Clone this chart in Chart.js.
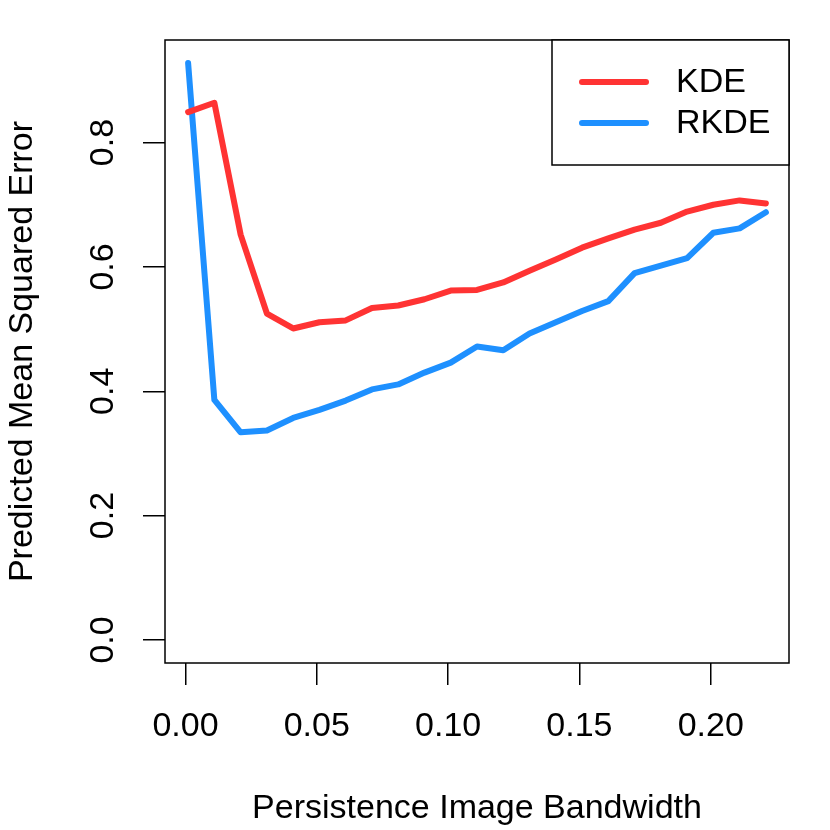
<!DOCTYPE html>
<html>
<head>
<meta charset="utf-8">
<style>
  html, body { margin: 0; padding: 0; background: #fff; }
  canvas { display: block; }
</style>
<script src="https://cdn.jsdelivr.net/npm/chart.js@4.4.1/dist/chart.umd.min.js"></script>
</head>
<body>
<canvas id="pmse_chart" width="830" height="830"></canvas>
<script>
var bandwidth = [0.001, 0.011, 0.021, 0.031, 0.041, 0.051, 0.061, 0.071, 0.081, 0.091, 0.101, 0.111,
                 0.121, 0.131, 0.141, 0.151, 0.161, 0.171, 0.181, 0.191, 0.201, 0.211, 0.221];
var kde = [0.849, 0.864, 0.652, 0.525, 0.501, 0.511, 0.514, 0.534, 0.538, 0.548, 0.562, 0.563,
           0.575, 0.594, 0.612, 0.631, 0.646, 0.660, 0.671, 0.689, 0.700, 0.707, 0.702];
var rkde = [0.928, 0.386, 0.334, 0.337, 0.357, 0.370, 0.385, 0.403, 0.411, 0.430, 0.446, 0.472,
            0.466, 0.493, 0.511, 0.529, 0.545, 0.590, 0.602, 0.614, 0.655, 0.662, 0.688];
var xTicks = [0, 0.05, 0.10, 0.15, 0.20];
var yTicks = [0, 0.2, 0.4, 0.6, 0.8];

var FONT = 'Liberation Sans, Arial, Helvetica, sans-serif';

function pairs(ys) {
  return ys.map(function (y, i) { return { x: bandwidth[i], y: y }; });
}

// box, rotated y labels and legend, the way R base graphics draws them
var rStyle = {
  id: 'rStyle',
  afterDraw: function (chart) {
    var ctx = chart.ctx;
    var a = chart.chartArea;
    var ys = chart.scales.y;
    ctx.save();
    ctx.strokeStyle = '#000';
    ctx.lineWidth = 1.5;
    ctx.strokeRect(a.left, a.top, a.right - a.left, a.bottom - a.top);

    ctx.fillStyle = '#000';
    ctx.font = '34px ' + FONT;
    ctx.textAlign = 'center';
    ctx.textBaseline = 'middle';
    ys.ticks.forEach(function (t) {
      var py = ys.getPixelForValue(t.value);
      ctx.save();
      ctx.translate(104, py);
      ctx.rotate(-Math.PI / 2);
      ctx.fillText(t.value.toFixed(1), 0, 0);
      ctx.restore();
    });

    // legend
    var lx = 552, ly = a.top, lw = a.right - 552, lh = 125;
    ctx.fillStyle = '#fff';
    ctx.fillRect(lx, ly, lw, lh);
    ctx.strokeRect(lx, ly, lw, lh);
    ctx.textAlign = 'left';
    chart.data.datasets.forEach(function (ds, i) {
      var yy = ly + 42 + i * 41;
      ctx.strokeStyle = ds.borderColor;
      ctx.lineWidth = 6;
      ctx.lineCap = 'round';
      ctx.beginPath();
      ctx.moveTo(582, yy);
      ctx.lineTo(646, yy);
      ctx.stroke();
      ctx.fillStyle = '#000';
      ctx.fillText(ds.label, 676, yy + 1);
    });
    ctx.restore();
  }
};

new Chart(document.getElementById('pmse_chart').getContext('2d'), {
  type: 'line',
  data: {
    datasets: [{
        label: 'KDE',
        data: pairs(kde),
        borderColor: '#FF3333',
        borderWidth: 6,
        borderCapStyle: 'round',
        borderJoinStyle: 'round',
        pointRadius: 0,
        tension: 0,
        fill: false
      },
      {
        label: 'RKDE',
        data: pairs(rkde),
        borderColor: '#1E90FF',
        borderWidth: 6,
        borderCapStyle: 'round',
        borderJoinStyle: 'round',
        pointRadius: 0,
        tension: 0,
        fill: false
      }
    ]
  },
  options: {
    responsive: false,
    animation: false,
    devicePixelRatio: 1,
    layout: { padding: { top: 40, right: 41, left: 0, bottom: 0 } },
    plugins: { legend: { display: false }, tooltip: { enabled: false } },
    scales: {
      x: {
        type: 'linear',
        min: -0.0078,
        max: 0.2298,
        afterFit: function (s) { s.height = 167; },
        afterBuildTicks: function (s) { s.ticks = xTicks.map(function (v) { return { value: v }; }); },
        grid: { drawOnChartArea: false, drawTicks: true, tickLength: 22, color: '#000', lineWidth: 1.5 },
        border: { display: false },
        ticks: {
          color: '#000',
          font: { family: FONT, size: 34 },
          padding: 21,
          maxRotation: 0,
          callback: function (v) { return Number(v).toFixed(2); }
        },
        title: {
          display: true,
          text: 'Persistence Image Bandwidth',
          color: '#000',
          font: { family: FONT, size: 34 },
          padding: { top: 0, bottom: 1 }
        }
      },
      y: {
        min: -0.0371,
        max: 0.965,
        afterFit: function (s) { s.width = 165; },
        afterBuildTicks: function (s) { s.ticks = yTicks.map(function (v) { return { value: v }; }); },
        grid: { drawOnChartArea: false, drawTicks: true, tickLength: 22, color: '#000', lineWidth: 1.5 },
        border: { display: false },
        ticks: { display: false },
        title: {
          display: true,
          text: 'Predicted Mean Squared Error',
          color: '#000',
          font: { family: FONT, size: 34 },
          padding: { top: 2, bottom: 0 }
        }
      }
    }
  },
  plugins: [rStyle]
});
</script>
</body>
</html>
